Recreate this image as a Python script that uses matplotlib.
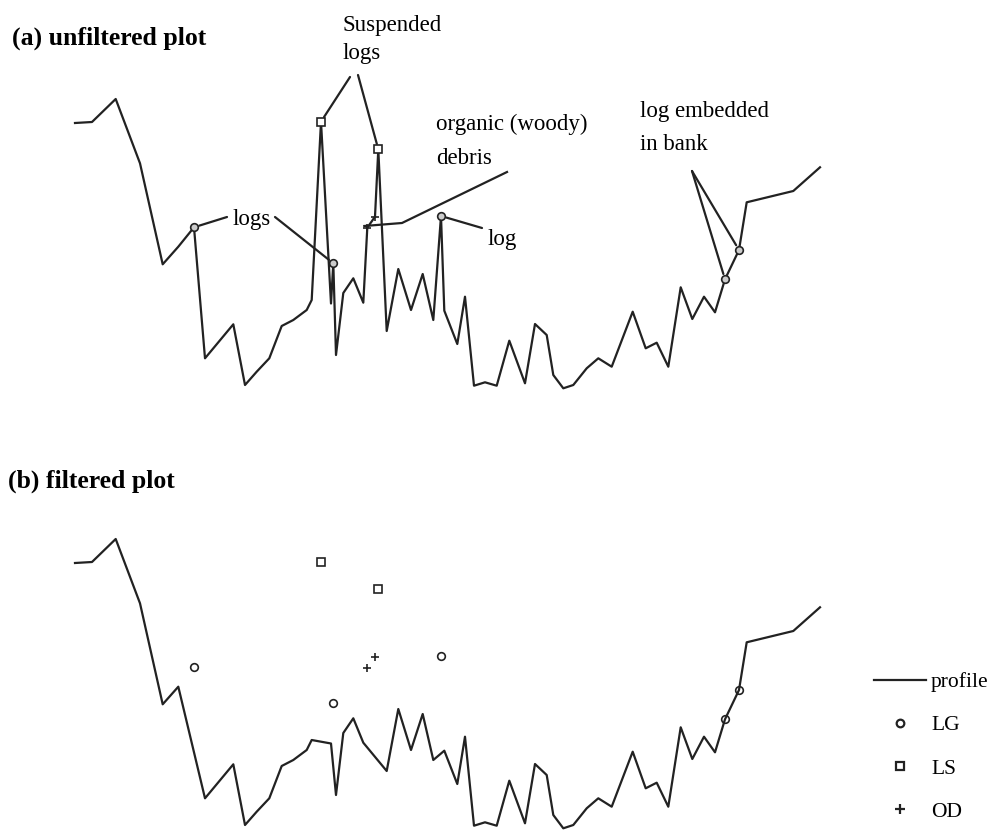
import matplotlib
matplotlib.use("Agg")
import matplotlib.pyplot as plt
from matplotlib.lines import Line2D
import numpy as np
import pandas as pd

plt.rcParams["font.family"] = ["Liberation Serif", "DejaVu Serif"]

# channel cross-section profile (distance, elevation)
distance = [0.0, 1.7, 4.07, 6.5, 8.77, 10.33, 13.0, 15.83, 17.0, 18.17,
            19.43, 20.67, 21.83, 23.17, 23.67, 25.6, 26.1, 26.83, 27.83, 28.83,
            31.17, 32.33, 33.6, 34.77, 35.83, 36.93, 38.23, 39.0, 39.9, 41.0,
            42.17, 43.43, 45.0, 46.0, 47.17, 47.83, 48.83, 49.83, 51.17, 52.33,
            53.67, 55.77, 57.07, 58.17, 59.33, 60.57, 61.73, 62.9, 64.0, 65.0,
            66.4, 67.17, 71.83, 74.5]
elevation = [26.7, 26.8, 29.1, 22.67, 12.57, 14.33, 3.17, 6.57, 0.5, 1.83,
             3.17, 6.4, 7.0, 8.0, 9.0, 8.65, 3.5, 9.7, 11.17, 8.73,
             5.9, 12.1, 8.0, 11.6, 7.0, 7.93, 4.6, 9.33, 0.43, 0.77,
             0.43, 4.93, 0.67, 6.6, 5.5, 1.5, 0.17, 0.5, 2.17, 3.17,
             2.33, 7.83, 4.17, 4.73, 2.33, 10.27, 7.1, 9.33, 7.77, 11.07,
             14.0, 18.77, 19.9, 22.27]

# debris returns: LG = logs, LS = suspended logs, OD = organic debris
lg_x = [11.9, 25.83, 36.6, 65.0, 66.4]
lg_y = [16.27, 12.67, 17.4, 11.07, 14.0]
ls_x = [24.6, 30.33]
ls_y = [26.83, 24.07]
od_x = [29.23, 30.0]
od_y = [16.23, 17.33]

profile = pd.DataFrame({"x": distance, "y": elevation})
debris = pd.DataFrame({"x": lg_x + ls_x + od_x, "y": lg_y + ls_y + od_y})
unfiltered = (pd.concat([profile, debris])
              .drop_duplicates()
              .sort_values("x"))

lc = "#222222"
fig = plt.figure(figsize=(10.01, 8.30), dpi=100)
ax_a = fig.add_axes([0, 440 / 830, 1, 390 / 830])
ax_b = fig.add_axes([0, 0, 1, 390 / 830])
for ax in (ax_a, ax_b):
    ax.set_xlim(-7.5, 92.6)
    ax.set_ylim(0, 39)
    ax.axis("off")

# (a) unfiltered
ax_a.plot(unfiltered["x"], unfiltered["y"], color=lc, lw=1.6, clip_on=False)
ax_a.plot(lg_x, lg_y, "o", ms=5.5, mfc="#cccccc", mec=lc, mew=1.2)
ax_a.plot(ls_x, ls_y, "s", ms=5.5, mfc="white", mec=lc, mew=1.2)
ax_a.plot(od_x, od_y, "+", ms=6, color=lc, mew=1.2)

lead = dict(arrowstyle="-", color=lc, lw=1.6, shrinkA=0, shrinkB=4)
fs = 16.5
ax_a.text(26.8, 36.4, "Suspended", fontsize=fs, va="center")
ax_a.text(26.8, 33.6, "logs", fontsize=fs, va="center")
ax_a.annotate("", xy=(ls_x[0], ls_y[0]), xytext=(27.5, 31.3), arrowprops=lead)
ax_a.annotate("", xy=(ls_x[1], ls_y[1]), xytext=(28.3, 31.5), arrowprops=lead)

ax_a.text(15.8, 17.1, "logs", fontsize=fs, va="center")
ax_a.annotate("", xy=(lg_x[0], lg_y[0]), xytext=(15.2, 17.3), arrowprops=lead)
ax_a.annotate("", xy=(lg_x[1], lg_y[1]), xytext=(20.0, 17.3), arrowprops=lead)

ax_a.text(36.1, 26.6, "organic (woody)", fontsize=fs, va="center")
ax_a.text(36.1, 23.2, "debris", fontsize=fs, va="center")
ax_a.plot([43.2, 32.7, od_x[0] - 0.3], [21.8, 16.7, 16.4], color=lc, lw=1.6)

ax_a.text(41.3, 15.1, "log", fontsize=fs, va="center")
ax_a.annotate("", xy=(lg_x[2], lg_y[2]), xytext=(40.7, 16.2), arrowprops=lead)

ax_a.text(56.5, 27.8, "log embedded", fontsize=fs, va="center")
ax_a.text(56.5, 24.6, "in bank", fontsize=fs, va="center")
ax_a.annotate("", xy=(lg_x[3], lg_y[3]), xytext=(61.7, 21.9), arrowprops=lead)
ax_a.annotate("", xy=(lg_x[4], lg_y[4]), xytext=(61.7, 21.9), arrowprops=lead)

# (b) filtered
ax_b.plot(distance, elevation, color=lc, lw=1.6, clip_on=False)
ax_b.plot(lg_x, lg_y, "o", ms=5.5, mfc="none", mec=lc, mew=1.2)
ax_b.plot(ls_x, ls_y, "s", ms=5.5, mfc="none", mec=lc, mew=1.2)
ax_b.plot(od_x, od_y, "+", ms=6, color=lc, mew=1.2)

handles = [Line2D([], [], color=lc, lw=1.6),
           Line2D([], [], ls="none", marker="o", ms=5.5, mfc="none", mec=lc, mew=1.6),
           Line2D([], [], ls="none", marker="s", ms=5.5, mfc="none", mec=lc, mew=1.6),
           Line2D([], [], ls="none", marker="+", ms=7, color=lc, mew=1.6)]
fig.legend(handles, ["profile", "LG", "LS", "OD"], loc="upper left",
           bbox_to_anchor=(874 / 1001, 1 - 672 / 830), frameon=False,
           fontsize=15.5, borderpad=0, borderaxespad=0, handlelength=2.4,
           handletextpad=0.25, labelspacing=1.08)

fig.text(12 / 1001, 1 - 38 / 830, "(a) unfiltered plot", fontsize=18.5,
         fontweight="bold", va="center")
fig.text(8 / 1001, 1 - 481 / 830, "(b) filtered plot", fontsize=18.5,
         fontweight="bold", va="center")

fig.savefig("out.png", dpi=100)
